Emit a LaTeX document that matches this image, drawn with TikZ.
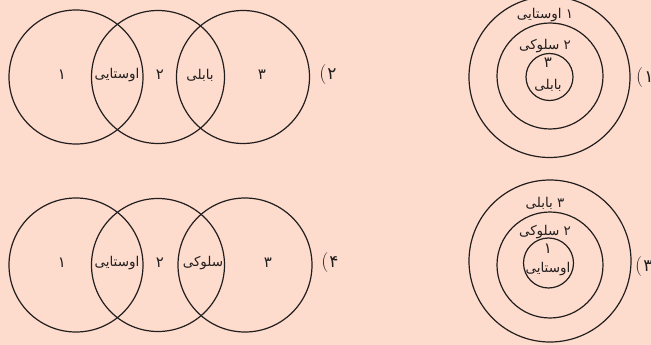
\documentclass[tikz,border=0pt]{standalone}
\usepackage{fontspec}
\newfontfamily\fa[Script=Arabic]{DejaVu Sans}
\newfontfamily\fadig{DejaVu Sans}
\TeXXeTstate=1
\definecolor{bg}{RGB}{253,220,206}
\definecolor{ink}{RGB}{35,30,30}
\begin{document}
\begin{tikzpicture}[x=1pt,y=-1pt,
  ring/.style={draw=ink,line width=1.2pt,circle,inner sep=0pt},
  lbl/.style={text=ink,font=\fa\fontsize{13.5}{15}\selectfont,inner sep=0pt},
  dig/.style={text=ink,font=\fadig\fontsize{15}{16}\selectfont,inner sep=0pt},
  num/.style={text=ink,font=\fontsize{20}{21}\selectfont,inner sep=0pt}]
\fill[bg] (0,0) rectangle (651,345);
\useasboundingbox (0,0) rectangle (651,345);
% --- top-left Venn (2)
\node[ring,minimum size=134pt] (aL) at (76,77) {};
\node[ring,minimum size=133pt] (aM) at (158,77) {};
\node[ring,minimum size=133pt] (aR) at (243,77) {};
\node[dig] (a1) at (62,75) {۱};
\node[lbl] (a2) at (117,75) {\beginR اوستایی\endR};
\node[dig] (a3) at (160,75) {۲};
\node[lbl] (a4) at (200,75) {\beginR بابلی\endR};
\node[dig] (a5) at (262,75) {۳};
\node[num] (aN) at (328,75) {(\kern1pt{\fadig\fontsize{17}{18}\selectfont ۲}};
% --- bottom-left Venn (4)
\node[ring,minimum size=134pt] (bL) at (76,265) {};
\node[ring,minimum size=133pt] (bM) at (158,265) {};
\node[ring,minimum size=134pt] (bR) at (245,265) {};
\node[dig] (b1) at (62,263) {۱};
\node[lbl] (b2) at (117,263) {\beginR اوستایی\endR};
\node[dig] (b3) at (160,263) {۲};
\node[lbl] (b4) at (203,263) {\beginR سلوکی\endR};
\node[dig] (b5) at (268,263) {۳};
\node[num] (bN) at (330,263) {(\kern1pt{\fadig\fontsize{17}{18}\selectfont ۴}};
% --- top-right concentric (1)
\node[ring,minimum size=161pt] (cO) at (549.5,77) {};
\node[ring,minimum size=106pt] (cM) at (550,76) {};
\node[ring,minimum size=47pt] (cI) at (549.5,77) {};
\node[lbl] (c1) at (545,15) {\beginR ۱ اوستایی\endR};
\node[lbl] (c2) at (545,46) {\beginR ۲ سلوکی\endR};
\node[dig] (c3) at (548,63) {۳};
\node[lbl] (c4) at (548,85) {\beginR بابلی\endR};
\node[num,anchor=west] (cN) at (636,78) {(\kern1pt{\fadig\fontsize{17}{18}\selectfont ۱}};
% --- bottom-right concentric (3)
\node[ring,minimum size=162pt] (dO) at (550,261) {};
\node[ring,minimum size=106pt] (dM) at (550,265) {};
\node[ring,minimum size=50pt] (dI) at (548.5,263) {};
\node[lbl] (d1) at (545,203) {\beginR ۳ بابلی\endR};
\node[lbl] (d2) at (545,232) {\beginR ۲ سلوکی\endR};
\node[dig] (d3) at (548,249) {۱};
\node[lbl] (d4) at (548,269) {\beginR اوستایی\endR};
\node[num,anchor=west] (dN) at (635,267) {(\kern1pt{\fadig\fontsize{17}{18}\selectfont ۳}};
\end{tikzpicture}
\end{document}
